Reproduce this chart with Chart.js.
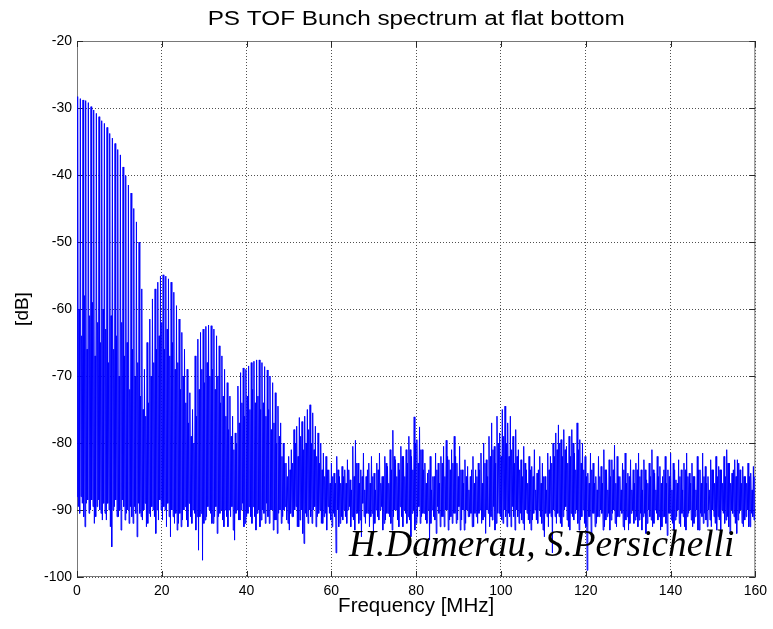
<!DOCTYPE html>
<html>
<head>
<meta charset="utf-8">
<title>PS TOF Bunch spectrum at flat bottom</title>
<script src="https://cdn.jsdelivr.net/npm/chart.js@4.4.1/dist/chart.umd.min.js"></script>
<style>
  html, body { margin: 0; padding: 0; background: #fff; }
  #wrap { width: 773px; height: 629px; }
</style>
</head>
<body>
<div id="wrap"><canvas id="spectrum" width="773" height="629"></canvas></div>
<script>
// ---- Data ----
const harmonicSpacing = 0.63; // MHz between revolution harmonics
const xTicks = [0, 20, 40, 60, 80, 100, 120, 140, 160];
const yTicks = [-100, -90, -80, -70, -60, -50, -40, -30, -20];

// top of each harmonic line [dB]
const peakDb = [
  -28.3, -28.6, -28.8, -28.9, -29.2, -29.8, -30.3, -30.8, -31.3, -31.9,
  -32.3, -32.9, -33.8, -34.5, -35.3, -36.2, -37.0, -38.8, -40.1, -41.5,
  -42.7, -45.0, -47.0, -50.0, -57.0, -69.0, -65.0, -61.5, -58.5, -57.0,
  -56.0, -55.1, -54.9, -55.1, -55.5, -56.0, -57.5, -59.5, -61.5, -63.5,
  -66.0, -69.0, -72.5, -75.0, -67.0, -64.5, -63.5, -63.0, -62.6, -62.4,
  -62.5, -63.0, -64.0, -65.5, -67.0, -69.0, -71.0, -73.0, -76.0, -78.5,
  -71.5, -69.5, -68.8, -69.0, -68.5, -68.0, -67.8, -67.6, -67.6, -68.0,
  -68.6, -69.1, -70.0, -71.0, -72.5, -74.5, -77.0, -80.0, -83.0, -82.0,
  -81.0, -78.0, -77.5, -76.2, -76.8, -76.0, -75.0, -74.3, -75.5, -77.5,
  -78.5, -80.0, -81.5, -82.0, -84.0, -83.0, -84.5, -82.0, -85.0, -83.5,
  -84.0, -82.5, -85.5, -80.5, -79.6, -83.0, -84.0, -81.5, -85.0, -83.0,
  -82.0, -84.5, -83.0, -81.5, -85.0, -82.0, -83.5, -81.0, -78.1, -82.5,
  -83.0, -80.5, -82.0, -81.0, -79.0, -82.0, -76.1, -79.5, -77.6, -81.0,
  -83.0, -84.5, -82.0, -85.0, -81.5, -83.0, -82.0, -80.5, -79.6, -82.5,
  -81.0, -79.0, -83.0, -80.5, -84.0, -82.5, -83.5, -85.0, -82.0, -84.0,
  -83.0, -81.5, -80.0, -82.5, -79.0, -77.0, -80.5, -76.0, -78.5, -75.0,
  -74.5, -77.0, -76.0, -79.0, -78.0, -81.0, -82.5, -80.5, -84.0, -82.0,
  -83.5, -81.0, -84.5, -82.0, -83.0, -85.0, -81.5, -82.0, -80.0, -78.5,
  -77.3, -79.5, -78.0, -80.5, -79.0, -78.0, -81.5, -77.0, -79.5, -80.0,
  -82.0, -84.5, -81.5, -83.0, -85.0, -82.0, -83.5, -81.0, -84.0, -82.5,
  -82.5, -80.3, -82.0, -85.0, -83.0, -81.5, -84.5, -82.5, -84.0, -83.0,
  -81.5, -84.0, -82.5, -85.5, -83.0, -81.0, -84.5, -82.0, -83.5, -85.0,
  -82.0, -84.0, -81.5, -83.0, -85.5, -82.5, -84.0, -83.0, -81.5, -84.5,
  -83.0, -85.0, -82.0, -84.0, -81.5, -83.5, -85.0, -82.5, -84.0, -82.0,
  -83.5, -84.0, -82.0, -81.0, -83.0, -84.5, -82.5, -82.5, -84.0, -83.5,
  -85.0, -83.0, -84.5, -83.5
];

// weaker line half way between two harmonics [dB]
const sideDb = [
  -60, -64, -58, -66, -61, -59, -67, -62, -65, -60,
  -63, -68, -61, -66, -64, -70, -62, -67, -65, -72,
  -66, -70, -68, -73, -75, -76, -74, -70, -68, -66,
  -64, -62, -66, -63, -67, -65, -69, -68, -72, -70,
  -74, -77, -79, -80, -76, -72, -69, -71, -68, -70,
  -69, -72, -70, -74, -73, -76, -78, -79, -81, -80,
  -77, -74, -76, -73, -75, -72, -74, -73, -75, -74,
  -76, -75, -78, -77, -80, -79, -82, -83, -85, -84,
  -83, -80, -82, -79, -81, -80, -78, -80, -81, -82,
  -83, -84, -85, -84, -86, -85, -86, -84, -86, -85,
  -86, -84, -87, -85, -83, -86, -85, -87, -84, -86,
  -85, -87, -84, -86, -85, -83, -86, -84, -82, -85,
  -84, -82, -85, -83, -81, -84, -80, -83, -81, -84,
  -86, -84, -87, -85, -84, -86, -83, -85, -82, -84,
  -83, -82, -85, -84, -86, -85, -87, -84, -86, -85,
  -84, -86, -83, -85, -82, -81, -83, -80, -82, -79,
  -80, -82, -81, -83, -82, -84, -85, -83, -86, -84,
  -85, -87, -84, -86, -85, -87, -84, -83, -82, -81,
  -80, -82, -81, -83, -82, -80, -84, -81, -83, -84,
  -85, -86, -84, -86, -87, -85, -86, -84, -87, -85,
  -84, -86, -85, -87, -84, -86, -85, -87, -86, -84,
  -85, -87, -84, -86, -85, -84, -87, -85, -86, -84,
  -86, -85, -87, -84, -86, -85, -87, -84, -85, -86,
  -85, -87, -84, -86, -85, -86, -87, -84, -86, -85,
  -84, -86, -85, -83, -86, -84, -85, -83, -86, -85,
  -86, -85, -87, -85
];

// noise floor reached before each harmonic line [dB]
const floorDb = [
  -88.0, -90.5, -89.0, -92.5, -88.5, -90.0, -89.5, -91.0, -88.5, -90.5,
  -89.0, -91.5, -90.0, -95.5, -89.5, -91.0, -90.0, -88.5, -91.5, -90.0,
  -89.5, -92.0, -90.5, -89.0, -91.0, -90.0, -92.5, -90.5, -89.5, -91.0,
  -90.0, -88.5, -91.5, -90.0, -89.0, -94.0, -91.0, -90.5, -92.0, -92.5,
  -90.0, -91.5, -89.0, -92.0, -90.5, -91.0, -91.0, -97.5, -91.5, -89.5,
  -90.5, -92.0, -89.5, -91.0, -90.0, -92.5, -91.0, -90.0, -89.5, -94.5,
  -90.0, -91.5, -89.0, -92.0, -90.5, -91.0, -89.5, -93.0, -90.0, -91.5,
  -90.5, -89.0, -92.0, -90.0, -91.5, -93.5, -90.0, -91.0, -89.5, -92.0,
  -90.5, -91.0, -89.5, -92.5, -90.0, -95.0, -91.0, -90.0, -92.0, -89.5,
  -91.0, -90.0, -92.0, -90.5, -89.5, -91.5, -90.5, -96.4, -92.5, -91.0,
  -90.0, -92.0, -89.5, -91.0, -93.0, -90.5, -91.5, -89.0, -92.0, -90.5,
  -91.0, -93.5, -90.0, -91.5, -89.5, -92.0, -90.5, -91.0, -93.0, -90.0,
  -91.5, -89.5, -92.5, -90.5, -91.0, -94.0, -90.0, -92.0, -89.5, -91.0,
  -90.5, -92.0, -94.5, -90.0, -91.5, -89.5, -92.5, -91.0, -90.0, -93.0,
  -91.0, -90.5, -92.0, -89.5, -91.5, -93.0, -90.0, -91.0, -92.5, -90.5,
  -92.0, -90.0, -91.5, -93.5, -90.5, -91.0, -89.5, -92.0, -90.5, -91.5,
  -90.0, -92.5, -91.0, -89.5, -93.0, -91.0, -90.5, -92.0, -90.0, -91.5,
  -93.0, -90.5, -91.5, -90.0, -92.0, -94.0, -91.0, -90.5, -96.4, -91.0,
  -90.5, -92.0, -91.0, -89.5, -92.5, -90.5, -91.5, -90.0, -93.0, -91.0,
  -92.0, -99.0, -91.0, -90.5, -92.5, -91.0, -90.0, -93.0, -91.5, -90.5,
  -91.5, -90.0, -92.5, -91.0, -90.5, -93.0, -91.0, -92.0, -90.0, -91.5,
  -92.5, -90.5, -91.0, -93.5, -90.0, -91.5, -92.0, -90.5, -91.0, -92.5,
  -91.0, -93.8, -90.5, -92.0, -91.5, -90.0, -92.5, -91.0, -93.0, -90.5,
  -91.5, -92.0, -90.0, -93.0, -91.0, -90.5, -92.5, -91.5, -90.0, -92.0,
  -91.0, -93.0, -90.5, -91.5, -92.5, -90.0, -91.0, -93.5, -90.5, -92.0,
  -91.5, -90.0, -92.5, -91.0
];

// noise floor reached between a harmonic and the weaker line after it [dB]
const floorMidDb = [
  -89.5, -88.0, -91.0, -89.0, -90.5, -88.5, -92.0, -89.5, -90.0, -91.5,
  -90.5, -89.0, -92.5, -90.0, -88.5, -91.0, -93.0, -89.5, -90.5, -92.0,
  -91.0, -89.5, -94.0, -90.5, -91.5, -89.0, -92.0, -91.0, -90.0, -93.5,
  -91.5, -90.0, -89.5, -92.5, -91.0, -90.0, -92.0, -93.0, -90.5, -91.5,
  -89.5, -92.5, -91.0, -90.0, -93.0, -96.0, -90.5, -92.0, -91.0, -90.0,
  -92.0, -91.0, -93.5, -90.5, -91.5, -90.0, -92.5, -91.0, -93.0, -90.5,
  -91.5, -90.0, -92.5, -91.0, -89.5, -92.0, -91.0, -90.5, -92.5, -90.0,
  -92.0, -91.0, -90.0, -93.0, -91.5, -90.5, -92.0, -90.0, -91.5, -93.0,
  -91.0, -90.0, -92.5, -91.5, -93.5, -90.5, -92.0, -91.0, -90.0, -92.5,
  -90.5, -92.0, -91.0, -93.0, -90.5, -92.5, -91.0, -90.0, -92.0, -91.5,
  -91.0, -90.0, -92.5, -91.5, -90.5, -92.0, -94.0, -91.0, -90.5, -92.5,
  -90.5, -92.0, -91.0, -90.0, -93.0, -91.5, -90.5, -92.0, -91.0, -90.0,
  -92.5, -91.0, -90.0, -92.0, -91.5, -90.5, -93.0, -91.0, -92.0, -90.5,
  -91.5, -90.0, -92.0, -91.0, -93.5, -90.5, -91.0, -92.5, -90.0, -91.5,
  -92.0, -90.5, -91.5, -93.0, -90.0, -92.0, -91.0, -90.5, -92.5, -91.0,
  -90.5, -92.0, -91.0, -90.0, -92.5, -91.5, -93.0, -90.5, -91.0, -92.0,
  -91.0, -90.5, -92.5, -91.0, -90.0, -92.0, -91.5, -93.0, -90.5, -92.0,
  -91.5, -90.0, -92.0, -91.0, -93.0, -90.5, -92.5, -91.0, -90.0, -92.0,
  -91.0, -92.5, -90.0, -91.5, -93.0, -91.0, -90.5, -92.0, -91.5, -90.0,
  -92.5, -91.0, -93.5, -90.5, -92.0, -91.0, -90.5, -92.5, -91.0, -93.0,
  -90.5, -92.0, -91.0, -90.0, -92.5, -91.5, -93.0, -90.5, -92.0, -91.0,
  -91.5, -93.0, -90.5, -92.0, -91.0, -92.5, -90.0, -91.5, -93.0, -91.0,
  -92.0, -90.5, -91.5, -93.0, -91.0, -92.0, -90.5, -92.5, -91.0, -90.0,
  -92.5, -91.0, -93.0, -90.5, -92.0, -91.5, -90.0, -92.5, -91.0, -93.0,
  -91.5, -90.0, -92.0, -91.0, -93.5, -90.5, -92.0, -91.5, -90.0, -92.5,
  -91.0, -92.5, -90.5, -91.5
];

// ---- Build the trace: floor -> harmonic -> floor -> weaker line ... ----
const trace = [];
peakDb.forEach((top, n) => {
    const f0 = n * harmonicSpacing;
    trace.push({ x: f0, y: floorDb[n] });
    trace.push({ x: f0 + 0.25 * harmonicSpacing, y: top });
    trace.push({ x: f0 + 0.5 * harmonicSpacing, y: floorMidDb[n] });
    trace.push({ x: f0 + 0.75 * harmonicSpacing, y: sideDb[n] });
});

const sansFont = "'Liberation Sans', Arial, Helvetica, sans-serif";

// box + inward tick marks, matlab style
const framePlugin = {
    id: 'frame',
    beforeDatasetsDraw(chart) {
        const { ctx, chartArea: a, scales } = chart;
        ctx.save();
        ctx.strokeStyle = 'rgb(120,120,120)';
        ctx.lineWidth = 1;
        ctx.strokeRect(a.left + 0.5, a.top + 0.5, a.right - a.left - 1, a.bottom - a.top - 1);
        ctx.strokeStyle = 'rgb(40,40,40)';
        ctx.beginPath();
        xTicks.forEach(v => {
            const px = Math.round(scales.x.getPixelForValue(v)) + 0.5;
            ctx.moveTo(px, a.bottom); ctx.lineTo(px, a.bottom - 6);
            ctx.moveTo(px, a.top); ctx.lineTo(px, a.top + 6);
        });
        yTicks.forEach(v => {
            const py = Math.round(scales.y.getPixelForValue(v)) + 0.5;
            ctx.moveTo(a.left, py); ctx.lineTo(a.left + 6, py);
            ctx.moveTo(a.right, py); ctx.lineTo(a.right - 6, py);
        });
        ctx.stroke();
        ctx.restore();
    }
};

// title and author credit
const textPlugin = {
    id: 'texts',
    afterDatasetsDraw(chart) {
        const { ctx, chartArea: a } = chart;
        ctx.save();
        ctx.fillStyle = '#000';
        ctx.textBaseline = 'alphabetic';

        // title is drawn a bit wider than the font, like the original figure
        const title = 'PS TOF Bunch spectrum at flat bottom';
        ctx.font = "20px " + sansFont;
        ctx.textAlign = 'center';
        const tw = ctx.measureText(title).width;
        ctx.save();
        ctx.translate((a.left + a.right) / 2, 25);
        ctx.scale(417 / tw, 1);
        ctx.fillText(title, 0, 0);
        ctx.restore();

        const credit = 'H.Damerau, S.Persichelli';
        ctx.font = "italic 32px 'Liberation Serif', 'Times New Roman', serif";
        const w = ctx.measureText(credit).width;
        const size = 32 * 385 / w;
        ctx.font = "italic " + size.toFixed(1) + "px 'Liberation Serif', 'Times New Roman', serif";
        ctx.textAlign = 'right';
        ctx.fillText(credit, a.right - 21, 556);
        ctx.restore();
    }
};

const ctx = document.getElementById('spectrum').getContext('2d');
new Chart(ctx, {
    type: 'line',
    data: {
        datasets: [{
            label: 'spectrum',
            data: trace,
            borderColor: 'rgb(0,0,255)',
            borderWidth: 1,
            pointRadius: 0,
            tension: 0,
            fill: false
        }]
    },
    options: {
        responsive: false,
        animation: false,
        devicePixelRatio: 1,
        layout: { padding: { top: 41, right: 17, left: 0, bottom: 0 } },
        plugins: {
            legend: { display: false },
            tooltip: { enabled: false },
            title: { display: false }
        },
        scales: {
            x: {
                type: 'linear',
                min: 0,
                max: 160,
                afterBuildTicks: s => { s.ticks = xTicks.map(v => ({ value: v })); },
                afterFit: s => { s.height = 52; },
                grid: { color: 'rgb(80,80,80)', drawTicks: false, lineWidth: 1 },
                border: { display: false, dash: [1, 2] },
                ticks: { color: '#000', font: { family: sansFont, size: 14 }, padding: 6, maxRotation: 0 },
                title: {
                    display: true, text: 'Frequency [MHz]', color: '#000',
                    font: { family: sansFont, size: 20.5 }, padding: { top: 0, bottom: 10 }
                }
            },
            y: {
                type: 'linear',
                min: -100,
                max: -20,
                afterBuildTicks: s => { s.ticks = yTicks.map(v => ({ value: v })); },
                afterFit: s => { s.width = 77; },
                grid: { color: 'rgb(80,80,80)', drawTicks: false, lineWidth: 1 },
                border: { display: false, dash: [1, 2] },
                ticks: { color: '#000', font: { family: sansFont, size: 14 }, padding: 5 },
                title: {
                    display: true, text: '[dB]', color: '#000',
                    font: { family: sansFont, size: 19 }, padding: { top: 11, bottom: 0 }
                }
            }
        }
    },
    plugins: [framePlugin, textPlugin]
});
</script>
</body>
</html>
